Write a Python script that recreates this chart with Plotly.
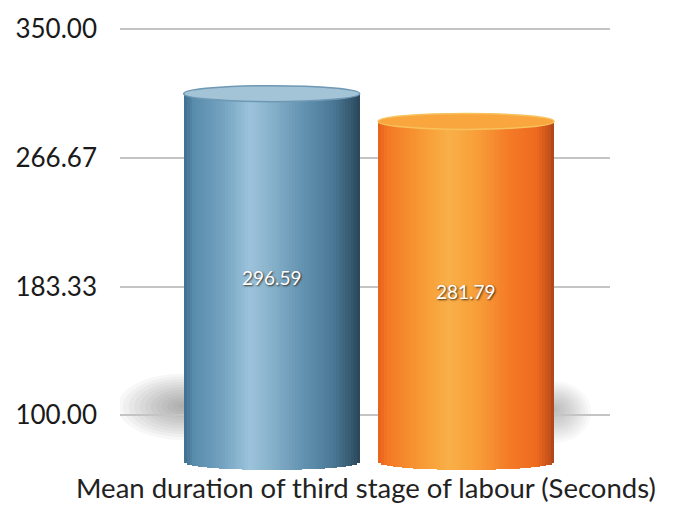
import numpy as np
import plotly.graph_objects as go

# ---- data ----
categories = ["Group 1", "Group 2"]
values = [296.59, 281.79]
value_labels = ["296.59", "281.79"]
tick_vals = [100.0, 183.33, 266.67, 350.0]
tick_text = ["100.00", "183.33", "266.67", "350.00"]
axis_title = "Mean duration of third stage of labour (Seconds)"
base_value = 100.0

# ---- style ----
FONT = "Lato, 'Open Sans', sans-serif"
W = 0.905          # bar width (category units)
N = 60             # strips for cylinder shading
H = 4.25           # ellipse half-height in y2 units

blue_stops = [(0.00, "#3f6f8e"), (0.06, "#5a8cab"), (0.20, "#6f9fbd"),
              (0.38, "#9cc3db"), (0.50, "#86b1ca"), (0.70, "#5f8fae"),
              (0.85, "#4b7896"), (0.95, "#36596f"), (1.00, "#2a4558")]
orange_stops = [(0.00, "#e8601c"), (0.06, "#f37a25"), (0.25, "#f79a35"),
                (0.40, "#f9b048"), (0.55, "#f8a03a"), (0.75, "#f47a26"),
                (0.90, "#ee6a1e"), (0.97, "#c9521a"), (1.00, "#a8441a")]


def hex2rgb(h):
    h = h.lstrip("#")
    return np.array([int(h[i:i + 2], 16) for i in (0, 2, 4)], dtype=float)


def interp(stops, t):
    for (t0, c0), (t1, c1) in zip(stops[:-1], stops[1:]):
        if t0 <= t <= t1:
            f = (t - t0) / (t1 - t0) if t1 > t0 else 0
            c = hex2rgb(c0) * (1 - f) + hex2rgb(c1) * f
            return "rgb(%d,%d,%d)" % tuple(np.round(c))
    return stops[-1][1]


fig = go.Figure()

# invisible trace that anchors the primary (gridline) axis
fig.add_trace(go.Scatter(x=categories, y=[tick_vals[0]] * len(categories),
                         mode="none", hoverinfo="skip", showlegend=False))

for k in range(N):
    t = (k + 0.5) / N
    bk = base_value - H * np.sqrt(max(0.0, 1 - (2 * t - 1) ** 2))
    off = -W / 2 + k * W / N
    wid = W / N * (1.25 if k < N - 1 else 1.0)
    fig.add_trace(go.Bar(
        x=categories,
        y=[v - bk for v in values],
        base=[bk] * len(values),
        offset=off,
        width=wid,
        marker=dict(color=[interp(blue_stops, t), interp(orange_stops, t)],
                    line=dict(width=0)),
        yaxis="y2",
        hoverinfo="skip",
        showlegend=False,
    ))

shapes = []
# soft floor shadows (stacked translucent ellipses)
nsh = 12
left_edge = 0 - W / 2
right_edge = 1 + W / 2
for j in range(nsh):
    f = 1 - j / nsh
    shapes.append(dict(type="circle", xref="x", yref="y", layer="below",
                       x0=left_edge - 0.34 * f, x1=left_edge + 0.34 * f,
                       y0=106 - 22 * f, y1=106 + 21 * f,
                       fillcolor="rgba(60,60,60,0.045)", line=dict(width=0)))
    shapes.append(dict(type="circle", xref="x", yref="y", layer="below",
                       x0=right_edge - 0.19 * f, x1=right_edge + 0.19 * f,
                       y0=104 - 22 * f, y1=104 + 18 * f,
                       fillcolor="rgba(60,60,60,0.03)", line=dict(width=0)))

top_fill = ["#a3c3d7", "#f9a63e"]
top_line = ["#6e98b3", "#f7c25c"]
for i, v in enumerate(values):
    shapes.append(dict(type="circle", xref="x", yref="y2",
                       x0=i - W / 2, x1=i + W / 2, y0=v - H, y1=v + H,
                       fillcolor=top_fill[i], line=dict(color=top_line[i], width=1.5),
                       layer="above"))

annotations = []
for i, v in enumerate(values):
    annotations.append(dict(x=categories[i], y=(base_value + v) / 2, xref="x", yref="y2",
                            text=value_labels[i], showarrow=False,
                            font=dict(family=FONT, size=19, color="white",
                                      shadow="1px 1px 2px rgba(40,30,20,0.9)")))
annotations.append(dict(x=0.502, y=-0.028, xref="paper", yref="paper",
                        text=axis_title, showarrow=False, yanchor="middle",
                        font=dict(family=FONT, size=27.5, color="#222222")))

fig.update_layout(
    width=680, height=506,
    margin=dict(l=120, r=70, t=20, b=31),
    paper_bgcolor="white", plot_bgcolor="white",
    barmode="overlay",
    bargap=0,
    xaxis=dict(type="category", range=[-0.78, 1.74], showticklabels=False,
               showgrid=False, zeroline=False, showline=False, ticks=""),
    yaxis=dict(range=[61.34, 354.5], tickvals=tick_vals, ticktext=tick_text,
               showgrid=True, gridcolor="#c4c4c4", gridwidth=2,
               zeroline=False, showline=False, ticks="",
               ticklabelstandoff=22,
               tickfont=dict(family=FONT, size=26, color="#1a1a1a")),
    yaxis2=dict(range=[93.08, 334.85], overlaying="y", visible=False),
    shapes=shapes,
    annotations=annotations,
)

fig.write_html("out.html")
